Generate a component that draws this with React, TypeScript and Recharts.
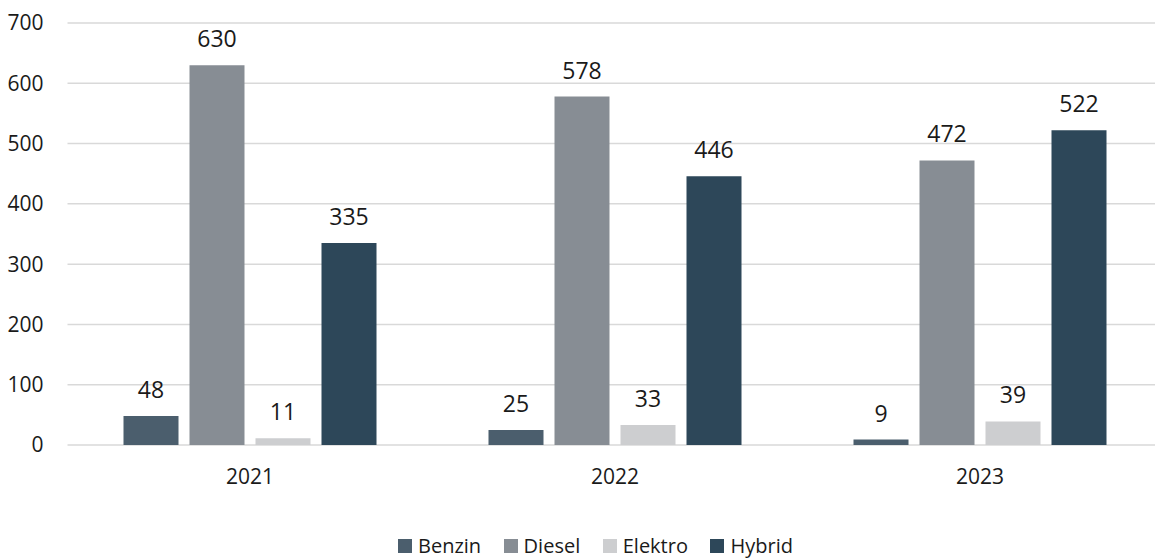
import React from "react";
import { BarChart, Bar, XAxis, YAxis, CartesianGrid, LabelList } from "recharts";

const years = ["2021", "2022", "2023"];
const benzin = [48, 25, 9];
const diesel = [630, 578, 472];
const elektro = [11, 33, 39];
const hybrid = [335, 446, 522];
const yTicks = [0, 100, 200, 300, 400, 500, 600, 700];

const seriesNames = ["Benzin", "Diesel", "Elektro", "Hybrid"];
const seriesKeys = ["benzin", "diesel", "elektro", "hybrid"];
const seriesColors = ["#4b5e6d", "#878d94", "#cdced0", "#2d4759"];

const data = years.map((y, i) => ({
  year: y,
  benzin: benzin[i],
  diesel: diesel[i],
  elektro: elektro[i],
  hybrid: hybrid[i],
}));

const FONT = "'Open Sans', sans-serif";

export default function App() {
  return (
    <div
      style={{
        position: "absolute",
        left: 0,
        top: 0,
        width: 1155,
        height: 559,
        overflow: "hidden",
        background: "#fff",
        fontFamily: FONT,
      }}
    >
      <BarChart
        width={1175}
        height={559}
        data={data}
        margin={{ top: 23, right: 12.5, left: 0, bottom: 84 }}
        barGap={11}
        barCategoryGap={55}
      >
        <CartesianGrid vertical={false} stroke="#d9d9d9" strokeWidth={1.5} />
        <XAxis
          dataKey="year"
          axisLine={false}
          tickLine={false}
          tickSize={0}
          tickMargin={24}
          height={30}
          tick={{ fill: "#1a1a1a", fontSize: 21, fontFamily: FONT }}
        />
        <YAxis
          width={67.5}
          domain={[0, 700]}
          ticks={yTicks}
          axisLine={false}
          tickLine={false}
          tickSize={0}
          tickMargin={24}
          tick={{ fill: "#1a1a1a", fontSize: 21, fontFamily: FONT }}
        />
        {seriesKeys.map((k, i) => (
          <Bar
            key={k}
            dataKey={k}
            name={seriesNames[i]}
            fill={seriesColors[i]}
            barSize={55}
            isAnimationActive={false}
          >
            <LabelList
              dataKey={k}
              position="top"
              offset={18}
              style={{ fill: "#1a1a1a", fontSize: 23, fontFamily: FONT }}
            />
          </Bar>
        ))}
      </BarChart>
      <div
        style={{
          position: "absolute",
          left: 398,
          top: 532,
          display: "flex",
          alignItems: "center",
          fontSize: 20,
          color: "#1a1a1a",
          fontFamily: FONT,
          whiteSpace: "nowrap",
        }}
      >
        {seriesNames.map((n, i) => (
          <div
            key={n}
            style={{ display: "flex", alignItems: "center", marginRight: 22.5 }}
          >
            <span
              style={{
                display: "inline-block",
                width: 14,
                height: 14,
                background: seriesColors[i],
                marginRight: 6,
              }}
            />
            <span>{n}</span>
          </div>
        ))}
      </div>
    </div>
  );
}
